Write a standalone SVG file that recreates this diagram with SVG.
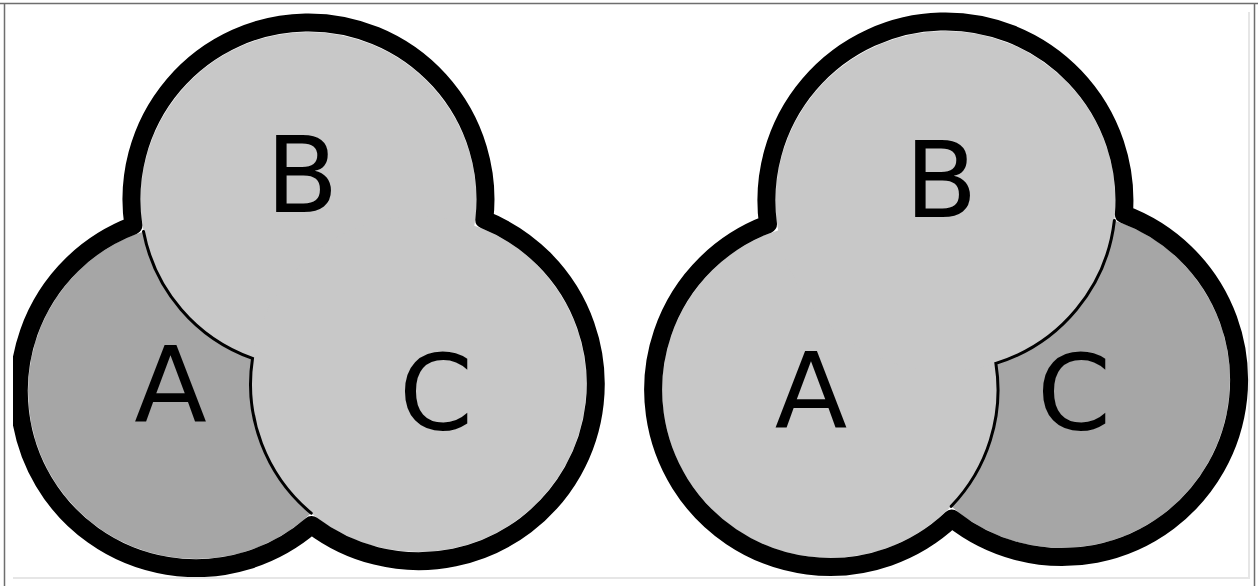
<svg xmlns="http://www.w3.org/2000/svg" width="1258" height="586" viewBox="0 0 1258 586">
  <style>
    .light { fill: #c8c8c8; }
    .dark { fill: #a6a6a6; }
    .outline { fill: none; stroke: #000; stroke-width: 18; stroke-linejoin: round; stroke-linecap: round; }
    .inner { fill: none; stroke: #000; stroke-width: 3; stroke-linecap: round; }
    .lbl { font-family: "DejaVu Sans", "Liberation Sans", sans-serif; font-size: 106px; fill: #000; text-anchor: middle; }
    .frame { stroke: #6e6e6e; stroke-width: 1.5; fill: none; }
    .edge { stroke: #e6e6e6; stroke-width: 2; fill: none; }
  </style>
  <defs>
    <clipPath id="clip">
      <rect x="13" y="12" width="1237" height="565"/>
    </clipPath>
  </defs>
  <rect width="1258" height="586" fill="#fff"/>
  <g id="frame">
    <line class="frame" x1="0" y1="3.5" x2="1258" y2="3.5"/>
    <line class="frame" x1="4.5" y1="3" x2="4.5" y2="586"/>
    <line class="frame" x1="1254.5" y1="3" x2="1254.5" y2="586"/>
    <line class="edge" x1="13" y1="578" x2="1250" y2="578"/>
    <line class="edge" x1="1249" y1="12" x2="1249" y2="578"/>
  </g>
  <g clip-path="url(#clip)">
    <g id="left-diagram">
      <g id="left-A">
        <circle class="dark" cx="196" cy="391" r="168"/>
      </g>
      <g id="left-B">
        <circle class="light" cx="308.5" cy="200" r="168"/>
      </g>
      <g id="left-C">
        <circle class="light" cx="418.5" cy="384" r="168"/>
      </g>
    </g>
    <g id="right-diagram">
      <g id="right-C">
        <circle class="dark" cx="1062" cy="380" r="168"/>
      </g>
      <g id="right-A">
        <circle class="light" cx="830" cy="390" r="168"/>
      </g>
      <g id="right-B">
        <circle class="light" cx="945.5" cy="201" r="170"/>
      </g>
    </g>
    <g id="connectors">
      <path class="inner" d="M 143.5 231.5 A 168 168 0 0 0 252.5 358.4 A 168 168 0 0 0 311.2 513.2"/>
      <path class="outline" d="M 133.4 225.5 A 177 177 0 1 1 484.3 219.7 A 177 177 0 1 1 311.6 525 A 177 177 0 1 1 133.4 225.5 Z"/>
      <path class="inner" d="M 1114.4 220.4 A 170 170 0 0 1 995.9 363.4 A 168 168 0 0 1 951.2 506.3"/>
      <path class="outline" d="M 768 224.2 A 179 179 0 1 1 1123.9 214.2 A 177 177 0 1 1 951.8 518.5 A 177 177 0 1 1 768 224.2 Z"/>
    </g>
    <g id="labels">
      <text class="lbl" x="170.5" y="421.5">A</text>
      <text class="lbl" x="302" y="211.5">B</text>
      <text class="lbl" x="436" y="429.5">C</text>
      <text class="lbl" x="811" y="428">A</text>
      <text class="lbl" x="941" y="217">B</text>
      <text class="lbl" x="1074" y="430">C</text>
    </g>
  </g>
</svg>
